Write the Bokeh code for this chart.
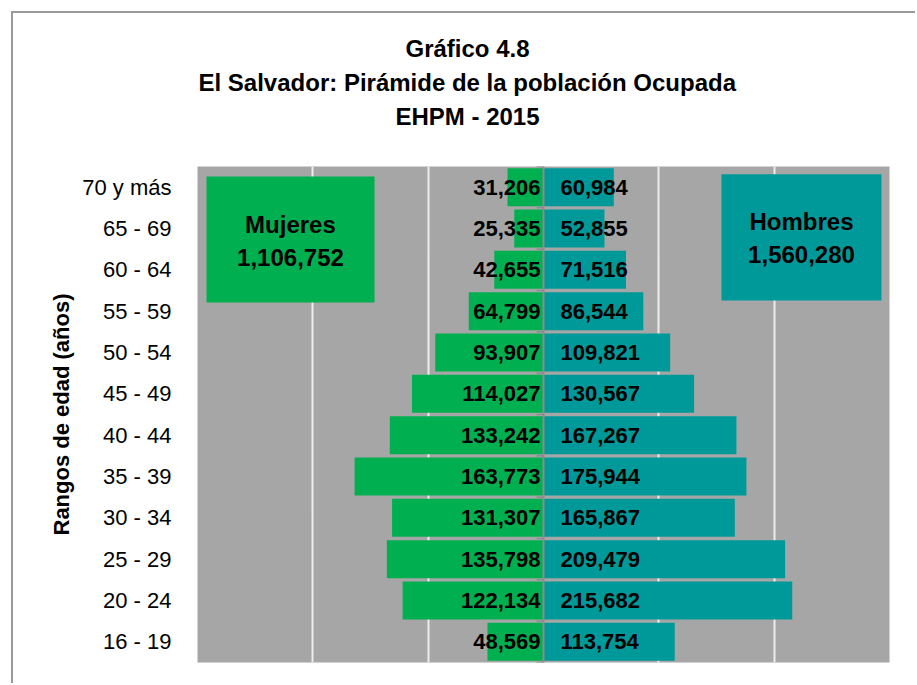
from bokeh.plotting import figure
from bokeh.models import ColumnDataSource, FactorRange, Range1d, FixedTicker, Label, Title
from bokeh.core.properties import value
from bokeh.embed import file_html
from bokeh.resources import INLINE

ages = ["16 - 19", "20 - 24", "25 - 29", "30 - 34", "35 - 39", "40 - 44",
        "45 - 49", "50 - 54", "55 - 59", "60 - 64", "65 - 69", "70 y más"]
mujeres = [48569, 122134, 135798, 131307, 163773, 133242,
           114027, 93907, 64799, 42655, 25335, 31206]
hombres = [113754, 215682, 209479, 165867, 175944, 167267,
           130567, 109821, 86544, 71516, 52855, 60984]
title_lines = ["Gráfico 4.8", "El Salvador: Pirámide de la población Ocupada", "EHPM - 2015"]

FONT = "Liberation Sans"
GREEN = "#00B050"
TEAL = "#009999"

src = ColumnDataSource(dict(
    age=ages,
    mleft=[-v for v in mujeres],
    hright=hombres,
    mlab=[f"{v:,}" for v in mujeres],
    hlab=[f"{v:,}" for v in hombres],
    zero=[0] * len(ages),
))

p = figure(width=904, height=672, output_backend="svg", toolbar_location=None,
           y_range=FactorRange(factors=ages, range_padding=0),
           x_range=Range1d(-300000, 300000),
           min_border_left=184, min_border_right=28, min_border_top=153, min_border_bottom=23)
p.background_fill_color = "#A6A6A6"
p.border_fill_color = "white"
p.outline_line_color = None
p.styles = {"border-left": "2px solid #9a9a9a", "border-top": "2px solid #9a9a9a",
            "margin-left": "11px", "margin-top": "11px"}

# spacer between frame and title block
p.add_layout(Title(text=" ", text_font=FONT, text_font_size="24px", standoff=5), "above")
# title lines (added nearest-first)
offsets = {title_lines[0]: 208, title_lines[1]: 1, title_lines[2]: 198}
standoffs = {title_lines[0]: 6, title_lines[1]: 5, title_lines[2]: 5}
for t in reversed(title_lines):
    p.add_layout(Title(text=t, align="left", offset=offsets[t], text_font=FONT,
                       text_font_size="24px", text_font_style="bold", text_color="black",
                       standoff=standoffs[t]), "above")

p.xaxis.visible = False
p.xgrid.ticker = FixedTicker(ticks=[-300000, -200000, -100000, 100000, 200000, 300000])
p.xgrid.grid_line_color = "#EDEDED"
p.xgrid.grid_line_width = 2
p.ygrid.grid_line_color = None

ax = p.yaxis[0]
ax.axis_line_color = None
ax.major_tick_line_color = None
ax.minor_tick_line_color = None
ax.major_label_text_font = FONT
ax.major_label_text_font_size = "22px"
ax.major_label_text_color = "black"
ax.major_label_standoff = 20
ax.axis_label = "Rangos de edad (años)"
ax.axis_label_text_font = FONT
ax.axis_label_text_font_size = "22px"
ax.axis_label_text_font_style = "bold"
ax.axis_label_text_color = "black"
ax.axis_label_standoff = 5

p.hbar(y="age", left="mleft", right="zero", height=0.92, source=src,
       fill_color=GREEN, line_color=None)
p.hbar(y="age", left="zero", right="hright", height=0.92, source=src,
       fill_color=TEAL, line_color=None)

# center axis with small ticks
n = len(ages)
p.segment(x0=[0], y0=[0], x1=[0], y1=[n], line_color="#8C8C8C", line_width=2)
p.segment(x0=[-6000] * (n + 1), y0=list(range(n + 1)), x1=[0] * (n + 1),
          y1=list(range(n + 1)), line_color="#8C8C8C", line_width=1.5)

p.text(x="zero", y="age", text="mlab", source=src, x_offset=-3,
       text_align="right", text_baseline="middle", text_font=value(FONT),
       text_font_size="22px", text_font_style="bold", text_color="black")
p.text(x="zero", y="age", text="hlab", source=src, x_offset=17,
       text_align="left", text_baseline="middle", text_font=value(FONT),
       text_font_size="22px", text_font_style="bold", text_color="black")

# legend boxes
p.quad(left=[-292200], right=[-146500], bottom=[8.71], top=[11.76],
       fill_color=GREEN, line_color=None)
p.quad(left=[154300], right=[293000], bottom=[8.76], top=[11.81],
       fill_color=TEAL, line_color=None)
box_texts = [("Mujeres", f"{sum(mujeres):,}", -219400, 10.60, 9.80),
             ("Hombres", f"{sum(hombres):,}", 223700, 10.67, 9.87)]
for name, total, bx, y1, y2 in box_texts:
    for t, yy in ((name, y1), (total, y2)):
        p.add_layout(Label(x=bx, y=yy, text=t, text_align="center", text_baseline="middle",
                           text_font=FONT, text_font_size="24px", text_font_style="bold",
                           text_color="black"))

open("out.html", "w").write(file_html(p, INLINE))
